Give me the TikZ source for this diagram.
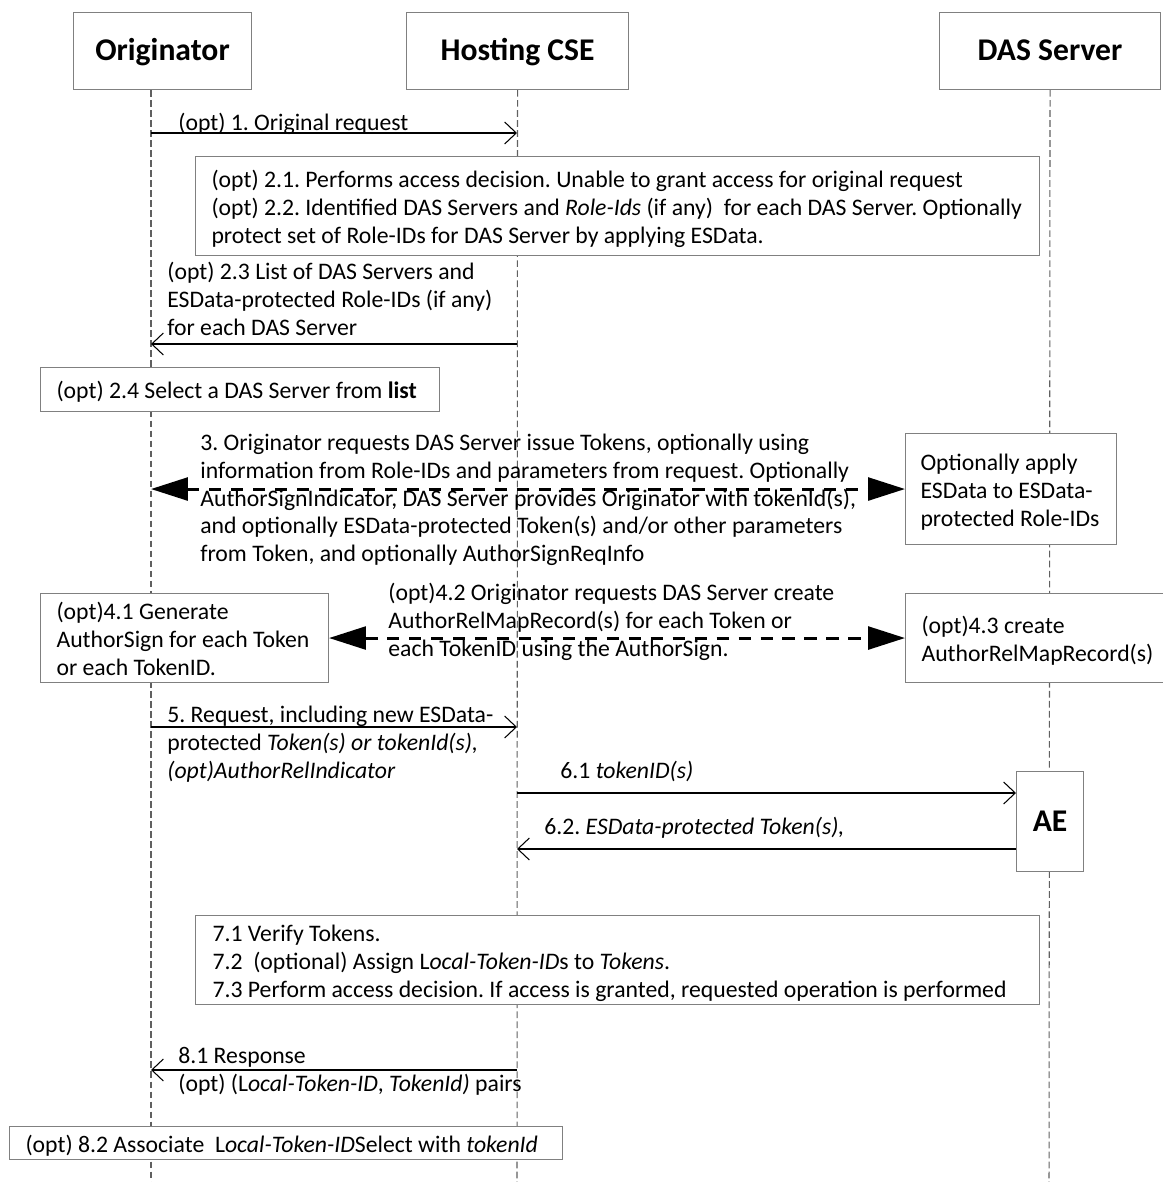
\documentclass[tikz,border=0pt]{standalone}
\usepackage{fontspec}
\setmainfont{Carlito}
\usetikzlibrary{arrows.meta}

\definecolor{boxgray}{HTML}{808080}
\definecolor{linegray}{HTML}{606060}
\newcommand{\msgfont}{\fontsize{13.5}{15.87}\selectfont}
\newcommand{\headfont}{\fontsize{18}{21}\selectfont\bfseries}
\newcommand{\pxu}{0.02cm}
% box text: fixed lines, natural word spaces
\newcommand{\boxlines}[1]{\spaceskip=0pt\xspaceskip=0pt\vspace*{-0.15cm}\begin{tabular}{@{}l@{}}#1\end{tabular}}
\frenchspacing

\begin{document}
\begin{tikzpicture}[x=0.02cm, y=-0.02cm,
    head/.style={draw=boxgray, fill=white, line width=0.6pt, inner sep=0pt, anchor=north west,
      font=\headfont, text height=14pt, text depth=3.2pt},
    tbox/.style={draw=boxgray, fill=white, line width=0.6pt, anchor=north west, align=left, font=\msgfont, inner ysep=0pt},
    lbl/.style={anchor=north west, inner sep=0pt, align=left, font=\msgfont, yshift=19.6*\pxu},
    life/.style={draw=linegray, line width=0.6pt, dash pattern=on 3.8pt off 1.9pt},
    msg/.style={line width=0.6pt, -{Straight Barb[length=6.6pt, width=12.5pt]}},
    bigmsg/.style={line width=1.7pt, dash pattern=on 7pt off 5.5pt,
      {Triangle[length=21pt, width=13pt]}-{Triangle[length=21pt, width=13pt]}}]
    \useasboundingbox (0,0) rectangle (1162,1182);

    % Heads
    \node[head, minimum width=178*\pxu, minimum height=77*\pxu] (orig) at (73,12) {Originator};
    \node[head, minimum width=222*\pxu, minimum height=77*\pxu] (host) at (406,12) {Hosting CSE};
    \node[head, minimum width=221*\pxu, minimum height=77*\pxu] (das) at (939,12) {DAS Server};

    % Lifelines
    \coordinate (oEnd) at (151,1182);
    \coordinate (hEnd) at (517,1182);
    \coordinate (dEnd) at (1049,1182);
    \draw[life] (orig.south -| oEnd) -- (oEnd);
    \draw[life] (host.south) -- (hEnd);
    \draw[life] (das.south) -- (dEnd);

    % Message rows on the lifelines
    \foreach \n/\y in {1/133, 23/344, 5/727, 81/1070} {
        \coordinate (o\n) at (151,\y);
        \coordinate (h\n) at (517,\y);
    }
    \coordinate (h61) at (517,793);
    \coordinate (h62) at (517,849);

    % Boxes
    \node[tbox, text width=812*\pxu, inner xsep=16*\pxu, minimum height=99*\pxu] (act2) at (195,156)
        {\boxlines{(opt) 2.1. Performs access decision. Unable to grant access for original request\\
         (opt) 2.2. Identified DAS Servers and \emph{Role-Ids} (if any)\ \ for each DAS Server. Optionally\\
         protect set of Role-IDs for DAS Server by applying ESData.}};
    \node[tbox, text width=367*\pxu, inner xsep=16*\pxu, minimum height=44*\pxu] (sel) at (40,367)
        {\boxlines{(opt) 2.4 Select a DAS Server from \textbf{list}}};
    \node[tbox, text width=181*\pxu, inner xsep=15*\pxu, minimum height=111*\pxu] (apply) at (905,433)
        {\boxlines{Optionally apply\\ESData to ESData-\\protected Role-IDs}};
    \node[tbox, text width=256*\pxu, inner xsep=16*\pxu, minimum height=89*\pxu] (gen) at (40,593)
        {\boxlines{(opt)4.1 Generate\\AuthorSign for each Token\\or each TokenID.}};
    \node[tbox, text width=248*\pxu, inner xsep=16*\pxu, minimum height=89*\pxu] (rec) at (905,593)
        {\boxlines{(opt)4.3 create\\AuthorRelMapRecord(s)}};
    \node[head, minimum width=67*\pxu, minimum height=100*\pxu] (ae) at (1016,771) {AE};
    \node[tbox, text width=810*\pxu, inner xsep=17*\pxu, minimum height=89*\pxu] (act7) at (195,915)
        {\boxlines{7.1 Verify Tokens.\\
         7.2\ \ (optional) Assign L\emph{ocal-Token-ID}s to \emph{Tokens}.\\
         7.3 Perform access decision. If access is granted, requested operation is performed}};
    \node[tbox, text width=521*\pxu, inner xsep=16*\pxu, minimum height=33*\pxu] (assoc) at (9,1126)
        {\boxlines{(opt) 8.2 Associate\ \ L\emph{ocal-Token-ID}Select with \emph{tokenId}}};

    % Messages
    \draw[msg] (o1) -- (h1);
    \draw[msg] (h23) -- (o23);
    \draw[bigmsg] (apply.west -| o1) -- (apply.west);
    \draw[bigmsg] (gen.east) -- (rec.west);
    \draw[msg] (o5) -- (h5);
    \draw[msg] (h61) -- (h61 -| ae.west);
    \draw[msg] (ae.west |- h62) -- (h62);
    \draw[msg] (h81) -- (o81);

    % Labels
    \node[lbl] (l1) at (178,130) {\strut(opt) 1. Original request};
    \node[lbl] (l23) at (167,279) {\strut(opt) 2.3 List of DAS Servers and\\ESData-protected Role-IDs (if any)\\for each DAS Server};
    \node[lbl] (l3) at (200,450) {\strut3. Originator requests DAS Server issue Tokens, optionally using\\
        information from Role-IDs and parameters from request. Optionally\\
        AuthorSignIndicator, DAS Server provides Originator with tokenId(s),\\
        and optionally ESData-protected Token(s) and/or other parameters\\
        from Token, and optionally AuthorSignReqInfo};
    \node[lbl] (l42) at (388,600) {\strut(opt)4.2 Originator requests DAS Server create\\
        AuthorRelMapRecord(s) for each Token or\\each TokenID using the AuthorSign.};
    \node[lbl] (l5) at (167,722) {\strut5. Request, including new ESData-\\
        protected \emph{Token(s) or tokenId(s),}\\\emph{(opt)AuthorRelIndicator}};
    \node[lbl] (l61) at (560,778) {\strut6.1 \emph{tokenID(s)}};
    \node[lbl] (l62) at (544,834) {\strut6.2. \emph{ESData-protected Token(s),}};
    \node[lbl] (l81) at (178,1063) {\strut8.1 Response\\(opt) (L\emph{ocal-Token-ID}, \emph{TokenId)} pairs};
\end{tikzpicture}
\end{document}
